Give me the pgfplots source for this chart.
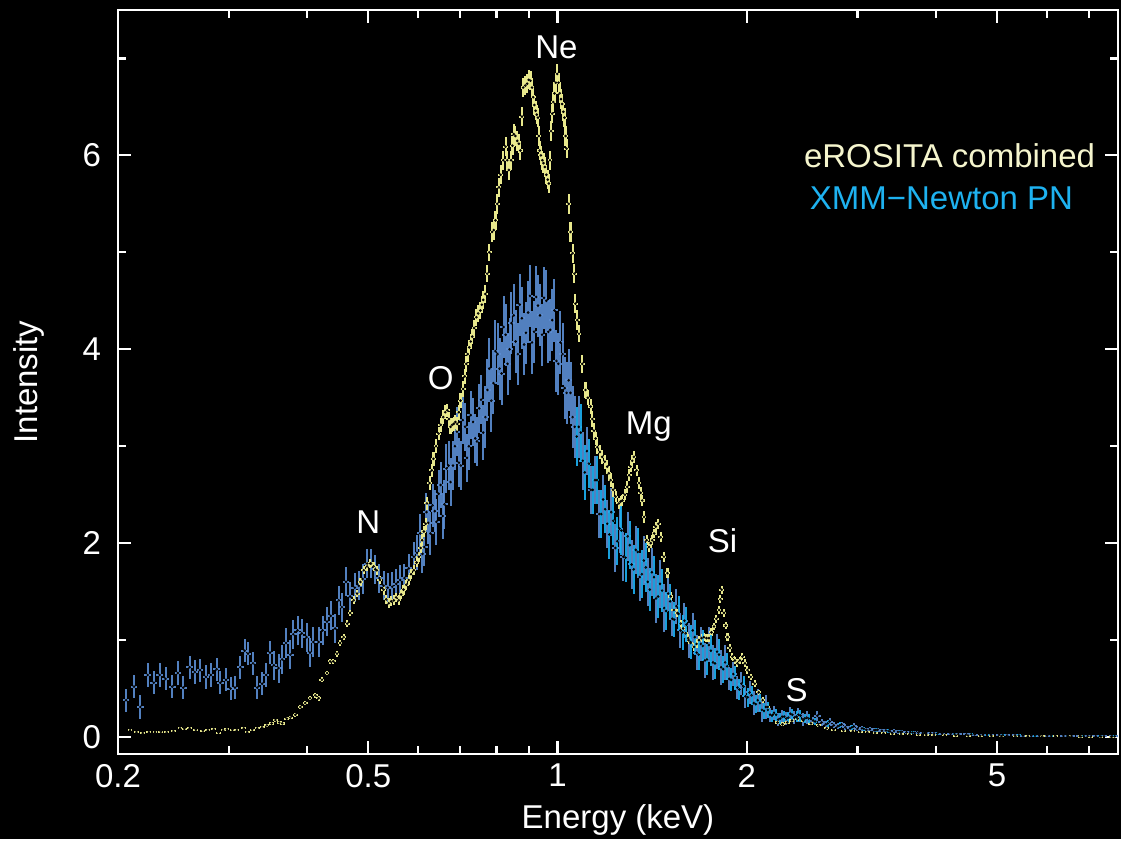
\documentclass[border=0pt]{standalone}
\usepackage{pgfplots}
\pgfplotsset{compat=1.18}
\usepackage{fontspec}
\setmainfont{Liberation Sans}
\definecolor{ero}{RGB}{232,232,140}
\definecolor{erolight}{RGB}{252,252,220}
\definecolor{xmma}{RGB}{92,142,212}
\definecolor{xmmb}{RGB}{28,178,245}
\definecolor{xmmlight}{RGB}{140,200,250}
\definecolor{eroText}{RGB}{245,245,205}
\definecolor{xmmText}{RGB}{30,178,240}
\newcommand{\lblfont}{\fontsize{16.5}{19}\selectfont}
\begin{document}
\begin{tikzpicture}
\fill[black] (-59pt,-42.5pt) rectangle (501.5pt,377pt);
\begin{axis}[
  at={(0,0)}, anchor=south west,
  scale only axis, width=500pt, height=372pt,
  xmode=log, xmin=0.2, xmax=7.79, ymin=-0.175, ymax=7.5,
  axis line style={white, line width=1.1pt},
  every tick/.style={white, line width=1.1pt},
  major tick length=6.5pt, minor tick length=4pt,
  tick align=inside, tick pos=both, ticklabel pos=left,
  xtick={0.2,0.5,1,2,5}, xticklabels={0.2,0.5,1,2,5},
  minor xtick={0.3,0.4,0.6,0.7,0.8,0.9,3,4,6,7},
  ytick={0,2,4,6}, minor ytick={1,3,5,7},
  /pgf/number format/assume math mode=true,
  ticklabel style={white, font=\lblfont},
  yticklabel style={xshift=-5pt},
  xticklabel style={yshift=-1.5pt},
  xlabel={Energy (keV)}, ylabel={Intensity},
  xlabel style={white, font=\lblfont, at={(axis description cs:0.5,0)}, anchor=base, yshift=-37.5pt},
  ylabel style={white, font=\lblfont, at={(axis description cs:0,0.5)}, anchor=base, yshift=40pt},
  clip=true,
]
% XMM steelblue component
\addplot[only marks, mark=*, mark size=0.45pt, mark options={draw=none, fill=xmmlight},
  error bars/.cd, y dir=both, y explicit, x dir=both, x fixed relative=0.012,
  error bar style={color=xmma, line width=1pt, opacity=0.9}, error mark=none]
  table[x=x,y=y,y error=e]{
x y e
0.206 0.38 0.12
0.212 0.52 0.12
0.217 0.31 0.12
0.223 0.64 0.12
0.228 0.56 0.12
0.233 0.64 0.12
0.238 0.60 0.12
0.244 0.52 0.12
0.249 0.66 0.12
0.254 0.51 0.12
0.260 0.72 0.12
0.265 0.67 0.12
0.270 0.69 0.12
0.276 0.62 0.12
0.281 0.64 0.12
0.287 0.70 0.12
0.291 0.56 0.12
0.297 0.59 0.12
0.302 0.50 0.12
0.307 0.51 0.12
0.313 0.72 0.12
0.318 0.89 0.12
0.322 0.86 0.12
0.328 0.76 0.12
0.333 0.51 0.12
0.339 0.55 0.12
0.344 0.64 0.12
0.349 0.87 0.12
0.354 0.74 0.15
0.360 0.71 0.15
0.365 0.80 0.15
0.370 0.97 0.15
0.376 0.85 0.15
0.380 1.06 0.15
0.386 1.10 0.15
0.392 1.07 0.15
0.399 1.03 0.15
0.404 0.87 0.15
0.409 0.98 0.15
0.417 0.98 0.15
0.423 1.10 0.15
0.430 1.19 0.15
0.436 1.25 0.15
0.443 1.12 0.15
0.449 1.41 0.15
0.454 1.34 0.15
0.461 1.60 0.15
0.468 1.45 0.15
0.476 1.54 0.15
0.483 1.56 0.15
0.490 1.63 0.15
0.498 1.79 0.15
0.505 1.79 0.15
0.513 1.73 0.15
0.521 1.64 0.15
0.529 1.56 0.15
0.537 1.54 0.15
0.546 1.55 0.15
0.554 1.58 0.15
0.562 1.62 0.15
0.571 1.64 0.15
0.580 1.74 0.15
0.591 1.86 0.15
0.598 1.90 0.18
0.605 2.10 0.20
0.610 1.89 0.20
0.614 1.96 0.20
0.619 2.32 0.20
0.623 2.21 0.22
0.628 2.10 0.22
0.633 2.39 0.22
0.638 2.33 0.22
0.642 2.22 0.24
0.647 2.51 0.24
0.652 2.60 0.24
0.657 2.28 0.24
0.661 2.40 0.25
0.666 2.77 0.25
0.671 2.80 0.25
0.676 2.63 0.25
0.682 2.80 0.25
0.687 3.00 0.25
0.692 3.15 0.25
0.697 2.83 0.25
0.702 2.80 0.25
0.707 3.27 0.25
0.713 3.20 0.25
0.718 2.88 0.25
0.723 3.00 0.25
0.728 3.32 0.25
0.734 3.25 0.25
0.740 3.08 0.25
0.745 3.05 0.25
0.751 3.39 0.25
0.756 3.48 0.25
0.762 3.14 0.28
0.768 3.30 0.32
0.774 3.58 0.32
0.779 3.80 0.32
0.785 3.47 0.32
0.791 3.65 0.32
0.797 3.98 0.32
0.803 3.95 0.32
0.809 3.80 0.32
0.815 3.75 0.32
0.821 4.23 0.32
0.827 4.15 0.32
0.833 3.85 0.32
0.839 4.00 0.32
0.845 4.27 0.32
0.852 4.35 0.32
0.858 4.08 0.32
0.865 3.95 0.32
0.871 4.46 0.32
0.878 4.32 0.32
0.885 4.05 0.32
0.891 4.17 0.32
0.898 4.38 0.32
0.904 4.55 0.32
0.911 4.07 0.32
0.918 4.18 0.32
0.925 4.54 0.32
0.931 4.45 0.32
0.938 4.35 0.32
0.945 4.15 0.32
0.952 4.53 0.32
0.960 4.50 0.32
0.967 4.18 0.32
0.974 4.20 0.32
0.981 4.30 0.32
0.989 4.40 0.32
0.996 3.88 0.32
1.003 3.85 0.32
1.011 4.07 0.32
1.019 3.95 0.32
1.027 3.60 0.32
1.034 3.55 0.32
1.042 3.68 0.32
1.049 3.55 0.32
1.057 3.30 0.32
1.065 3.20 0.32
1.081 3.20 0.32
1.097 2.85 0.30
1.114 2.95 0.25
1.130 2.55 0.25
1.147 2.65 0.25
1.165 2.30 0.25
1.182 2.45 0.25
1.200 2.20 0.25
1.218 2.32 0.25
1.236 1.95 0.25
1.255 2.15 0.25
1.273 1.86 0.25
1.293 2.07 0.25
1.312 1.78 0.25
1.332 1.93 0.25
1.352 1.65 0.25
1.372 1.82 0.25
1.392 1.60 0.25
1.413 1.70 0.25
1.435 1.43 0.25
1.456 1.58 0.25
1.478 1.33 0.25
1.500 1.48 0.18
1.523 1.22 0.18
1.546 1.35 0.18
1.569 1.10 0.18
1.592 1.20 0.18
1.616 1.00 0.18
1.641 1.10 0.18
1.665 0.87 0.18
1.690 0.96 0.18
1.716 0.79 0.18
1.741 0.95 0.18
1.768 0.77 0.18
1.794 0.88 0.18
1.821 0.72 0.18
1.848 0.77 0.18
1.876 0.60 0.12
1.904 0.65 0.12
1.933 0.51 0.12
1.962 0.55 0.12
1.991 0.42 0.12
2.021 0.46 0.12
2.052 0.35 0.12
2.082 0.38 0.12
2.114 0.28 0.12
2.145 0.31 0.12
2.178 0.23 0.07
2.210 0.25 0.07
2.244 0.18 0.07
2.277 0.21 0.07
2.312 0.19 0.07
2.346 0.24 0.07
2.382 0.20 0.07
2.417 0.23 0.07
2.454 0.18 0.07
2.490 0.20 0.07
2.55 0.17 0.04
2.59 0.22 0.05
2.63 0.15 0.04
2.67 0.13 0.035
2.71 0.16 0.04
2.75 0.12 0.03
2.79 0.11 0.03
2.83 0.13 0.03
2.87 0.10 0.03
2.92 0.09 0.025
2.96 0.11 0.03
3.00 0.085 0.025
3.05 0.09 0.025
3.10 0.075 0.02
3.14 0.08 0.02
3.19 0.07 0.02
3.23 0.075 0.02
3.28 0.065 0.02
3.33 0.068 0.018
3.38 0.058 0.018
3.43 0.062 0.018
3.48 0.052 0.016
3.53 0.055 0.016
3.59 0.048 0.015
3.64 0.05 0.015
3.70 0.043 0.014
3.75 0.046 0.014
3.81 0.04 0.013
3.86 0.042 0.013
3.92 0.037 0.012
3.97 0.038 0.012
4.09 0.034 0.011
4.22 0.033 0.011
4.34 0.029 0.01
4.47 0.027 0.01
4.61 0.026 0.009
4.75 0.022 0.009
4.89 0.021 0.008
5.04 0.02 0.008
5.19 0.017 0.007
5.34 0.017 0.007
5.50 0.015 0.006
5.67 0.015 0.006
5.84 0.013 0.006
6.01 0.013 0.005
6.19 0.011 0.005
6.38 0.011 0.005
6.57 0.01 0.005
6.77 0.009 0.004
6.97 0.009 0.004
7.18 0.008 0.004
7.40 0.007 0.004
7.62 0.007 0.004
7.80 0.006 0.004
};
% eROSITA combined
\addplot[only marks, mark=*, mark size=0.45pt, mark options={draw=none, fill=erolight},
  error bars/.cd, y dir=both, y explicit, x dir=both, x fixed relative=0.009,
  error bar style={color=ero, line width=1.05pt}, error mark=none]
  table[x=x,y=y,y error=e]{
x y e
0.209 0.07 0.01
0.214 0.05 0.01
0.219 0.04 0.01
0.224 0.05 0.01
0.229 0.05 0.01
0.234 0.055 0.01
0.239 0.05 0.01
0.245 0.06 0.01
0.251 0.09 0.01
0.255 0.085 0.01
0.260 0.09 0.01
0.266 0.075 0.01
0.273 0.065 0.01
0.278 0.07 0.01
0.284 0.08 0.01
0.289 0.045 0.01
0.294 0.07 0.01
0.298 0.08 0.01
0.304 0.075 0.01
0.309 0.07 0.01
0.317 0.09 0.01
0.321 0.05 0.01
0.327 0.075 0.012
0.333 0.09 0.012
0.339 0.10 0.012
0.345 0.12 0.012
0.351 0.14 0.015
0.356 0.175 0.015
0.361 0.15 0.015
0.365 0.14 0.015
0.371 0.19 0.015
0.376 0.20 0.015
0.383 0.23 0.02
0.390 0.31 0.02
0.397 0.35 0.02
0.404 0.40 0.02
0.412 0.43 0.025
0.417 0.40 0.025
0.422 0.59 0.025
0.430 0.66 0.025
0.435 0.78 0.03
0.440 0.78 0.03
0.446 0.86 0.03
0.451 0.97 0.03
0.457 1.03 0.03
0.463 1.17 0.035
0.468 1.28 0.035
0.474 1.41 0.04
0.480 1.48 0.04
0.486 1.60 0.04
0.492 1.72 0.04
0.498 1.76 0.045
0.504 1.79 0.045
0.510 1.76 0.045
0.516 1.72 0.045
0.522 1.62 0.045
0.529 1.52 0.05
0.534 1.42 0.05
0.539 1.38 0.05
0.544 1.40 0.05
0.549 1.41 0.05
0.554 1.44 0.05
0.559 1.41 0.05
0.564 1.47 0.05
0.569 1.52 0.05
0.575 1.57 0.05
0.580 1.62 0.05
0.585 1.68 0.05
0.591 1.72 0.05
0.597 1.80 0.05
0.602 1.86 0.05
0.606 1.95 0.05
0.609 2.03 0.06
0.613 2.12 0.06
0.617 2.20 0.06
0.620 2.41 0.07
0.626 2.62 0.07
0.631 2.75 0.07
0.635 2.87 0.07
0.641 3.00 0.07
0.647 3.13 0.07
0.652 3.22 0.07
0.658 3.30 0.07
0.663 3.35 0.07
0.668 3.37 0.07
0.672 3.28 0.07
0.676 3.20 0.07
0.680 3.22 0.07
0.684 3.23 0.07
0.688 3.25 0.07
0.693 3.23 0.07
0.697 3.35 0.08
0.701 3.47 0.08
0.708 3.59 0.08
0.712 3.72 0.08
0.716 3.85 0.08
0.720 3.95 0.08
0.724 4.02 0.08
0.728 4.08 0.08
0.732 4.13 0.08
0.737 4.22 0.08
0.743 4.33 0.09
0.748 4.37 0.09
0.754 4.40 0.09
0.758 4.46 0.09
0.762 4.51 0.09
0.768 4.57 0.09
0.773 4.78 0.09
0.779 5.00 0.09
0.787 5.21 0.1
0.792 5.23 0.1
0.797 5.33 0.1
0.802 5.50 0.1
0.807 5.67 0.1
0.812 5.80 0.1
0.820 5.95 0.1
0.827 6.09 0.1
0.832 5.95 0.1
0.837 5.85 0.1
0.844 5.95 0.1
0.848 6.10 0.1
0.852 6.22 0.1
0.857 6.20 0.1
0.863 6.15 0.1
0.868 6.12 0.1
0.873 6.05 0.1
0.878 6.40 0.1
0.882 6.70 0.1
0.889 6.72 0.1
0.895 6.74 0.1
0.900 6.78 0.1
0.906 6.77 0.1
0.911 6.70 0.1
0.915 6.60 0.1
0.919 6.52 0.1
0.923 6.46 0.1
0.927 6.42 0.1
0.931 6.39 0.1
0.934 6.20 0.1
0.937 6.05 0.1
0.941 6.00 0.1
0.946 5.95 0.1
0.950 5.92 0.1
0.955 5.88 0.1
0.960 5.80 0.1
0.965 5.75 0.1
0.969 5.71 0.1
0.973 5.95 0.1
0.977 6.25 0.1
0.981 6.43 0.1
0.985 6.55 0.1
0.989 6.64 0.1
0.994 6.75 0.1
0.999 6.84 0.1
1.004 6.75 0.1
1.008 6.64 0.1
1.013 6.58 0.1
1.017 6.53 0.1
1.022 6.45 0.1
1.026 6.39 0.1
1.030 6.20 0.1
1.034 6.07 0.1
1.042 5.50 0.1
1.049 5.21 0.1
1.057 4.99 0.1
1.064 4.78 0.1
1.068 4.47 0.1
1.075 4.30 0.1
1.082 4.16 0.09
1.095 3.85 0.09
1.108 3.58 0.08
1.118 3.50 0.08
1.129 3.41 0.08
1.136 3.28 0.08
1.143 3.16 0.08
1.150 3.08 0.07
1.157 2.99 0.07
1.168 2.94 0.07
1.178 2.89 0.07
1.189 2.84 0.07
1.200 2.79 0.07
1.207 2.72 0.07
1.215 2.65 0.07
1.226 2.55 0.07
1.237 2.48 0.06
1.252 2.41 0.06
1.260 2.43 0.06
1.268 2.44 0.06
1.280 2.50 0.06
1.291 2.58 0.06
1.300 2.70 0.06
1.307 2.79 0.06
1.315 2.85 0.06
1.323 2.89 0.06
1.336 2.75 0.06
1.348 2.62 0.06
1.356 2.52 0.06
1.364 2.44 0.06
1.373 2.27 0.06
1.386 2.03 0.05
1.398 1.96 0.05
1.407 2.00 0.05
1.415 2.03 0.05
1.425 2.10 0.05
1.433 2.17 0.05
1.447 2.20 0.05
1.459 2.06 0.05
1.477 1.86 0.05
1.496 1.69 0.05
1.514 1.45 0.05
1.532 1.31 0.04
1.551 1.28 0.04
1.570 1.17 0.04
1.585 1.12 0.04
1.599 1.07 0.04
1.614 1.02 0.04
1.629 0.97 0.04
1.649 0.93 0.04
1.664 0.96 0.04
1.679 1.00 0.04
1.695 1.02 0.04
1.710 1.03 0.04
1.726 1.02 0.04
1.742 1.02 0.04
1.758 1.08 0.04
1.774 1.14 0.04
1.790 1.22 0.04
1.807 1.31 0.04
1.816 1.42 0.04
1.825 1.52 0.04
1.840 1.28 0.04
1.852 1.15 0.04
1.864 1.03 0.04
1.881 0.92 0.04
1.898 0.83 0.04
1.915 0.79 0.04
1.933 0.76 0.04
1.951 0.79 0.04
1.969 0.83 0.04
1.987 0.76 0.04
2.005 0.69 0.04
2.03 0.62 0.035
2.06 0.55 0.035
2.09 0.46 0.03
2.12 0.38 0.03
2.16 0.31 0.03
2.20 0.23 0.025
2.24 0.15 0.02
2.28 0.13 0.02
2.32 0.15 0.02
2.36 0.17 0.02
2.41 0.19 0.02
2.46 0.17 0.02
2.53 0.14 0.02
2.60 0.12 0.015
2.68 0.09 0.015
2.75 0.075 0.012
2.85 0.065 0.01
2.95 0.06 0.01
3.03 0.055 0.01
3.11 0.048 0.01
3.20 0.042 0.008
3.30 0.038 0.008
3.41 0.034 0.008
3.52 0.030 0.006
3.63 0.027 0.006
3.75 0.025 0.006
3.86 0.022 0.005
3.97 0.020 0.005
4.13 0.018 0.005
4.30 0.016 0.004
4.50 0.014 0.004
4.70 0.013 0.004
4.90 0.011 0.003
5.08 0.010 0.003
5.35 0.009 0.003
5.60 0.008 0.003
5.90 0.007 0.002
6.20 0.006 0.002
6.50 0.006 0.002
6.80 0.005 0.002
7.05 0.004 0.002
7.32 0.004 0.002
7.60 0.003 0.002
};
% XMM bright blue component
\addplot[only marks, mark=*, mark size=0.45pt, mark options={draw=none, fill=xmmlight},
  error bars/.cd, y dir=both, y explicit, x dir=both, x fixed relative=0.006,
  error bar style={color=xmmb, line width=1pt, opacity=0.9}, error mark=none]
  table[x=x,y=y,y error=e]{
x y e
1.073 3.10 0.30
1.089 3.14 0.30
1.105 2.73 0.28
1.122 2.82 0.25
1.138 2.55 0.25
1.156 2.65 0.25
1.174 2.30 0.25
1.191 2.35 0.25
1.209 2.09 0.25
1.227 2.23 0.25
1.245 2.02 0.25
1.264 2.13 0.25
1.283 1.85 0.25
1.303 1.98 0.25
1.322 1.73 0.25
1.342 1.91 0.25
1.362 1.68 0.25
1.382 1.75 0.25
1.402 1.52 0.22
1.424 1.65 0.22
1.446 1.45 0.22
1.467 1.51 0.22
1.489 1.30 0.20
1.511 1.40 0.18
1.534 1.21 0.18
1.558 1.27 0.18
1.581 1.08 0.18
1.604 1.16 0.18
1.628 0.98 0.18
1.653 1.03 0.18
1.677 0.85 0.16
1.703 0.94 0.16
1.729 0.80 0.16
1.754 0.89 0.16
1.781 0.76 0.16
1.807 0.85 0.16
1.835 0.70 0.14
1.862 0.73 0.14
1.890 0.59 0.12
1.918 0.61 0.12
1.947 0.49 0.11
1.977 0.52 0.11
2.006 0.41 0.10
2.036 0.43 0.10
2.067 0.34 0.09
2.098 0.35 0.09
2.130 0.27 0.08
2.161 0.28 0.08
2.194 0.22 0.06
2.227 0.23 0.06
2.261 0.19 0.06
2.294 0.21 0.06
2.329 0.20 0.06
2.364 0.23 0.06
2.400 0.21 0.06
2.435 0.22 0.06
2.472 0.19 0.05
2.509 0.19 0.05
2.57 0.16 0.04
2.69 0.14 0.035
2.81 0.12 0.03
2.94 0.10 0.025
3.07 0.085 0.02
3.21 0.072 0.02
3.36 0.063 0.018
3.51 0.054 0.016
3.67 0.047 0.014
3.84 0.041 0.013
4.02 0.036 0.012
4.28 0.031 0.01
4.55 0.027 0.01
4.82 0.022 0.008
5.11 0.019 0.008
5.42 0.016 0.007
5.75 0.014 0.006
6.10 0.012 0.005
6.47 0.011 0.005
6.87 0.009 0.004
7.29 0.008 0.004
7.70 0.007 0.004
};
% element labels
\node[white, font=\lblfont] at (axis cs:0.50,2.22) {N};
\node[white, font=\lblfont] at (axis cs:0.652,3.70) {O};
\node[white, font=\lblfont] at (axis cs:0.996,7.11) {Ne};
\node[white, font=\lblfont] at (axis cs:1.397,3.20) {Mg};
\node[white, font=\lblfont] at (axis cs:1.83,2.03) {Si};
\node[white, font=\lblfont] at (axis cs:2.40,0.48) {S};
% legend texts
\node[eroText, font=\lblfont, anchor=east] at (axis cs:7.35,6.0) {eROSITA combined};
\node[xmmText, font=\lblfont, anchor=east] at (axis cs:6.78,5.56) {XMM−Newton PN};
\end{axis}
\end{tikzpicture}
\end{document}
